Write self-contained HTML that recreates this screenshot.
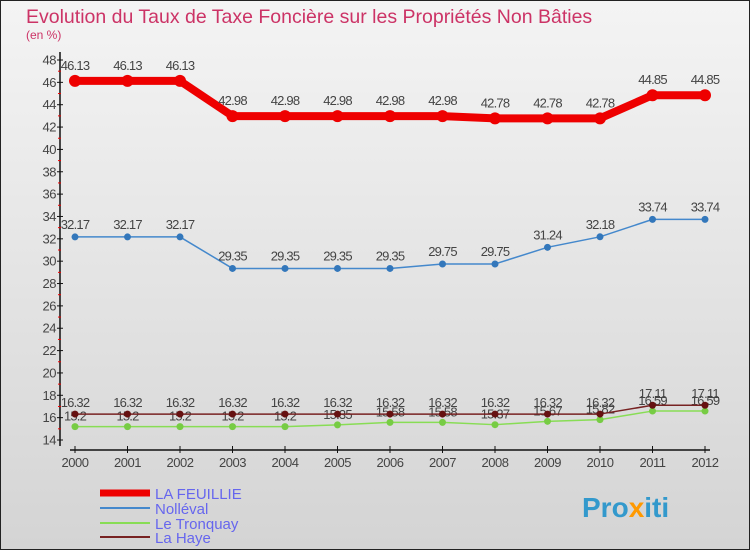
<!DOCTYPE html>
<html><head><meta charset="utf-8"><style>
body{margin:0}
svg{display:block;font-family:"Liberation Sans",sans-serif}
</style></head><body>
<svg width="750" height="550" viewBox="0 0 750 550" id="c">
<defs><linearGradient id="bg" x1="0" y1="0" x2="0" y2="1"><stop offset="0" stop-color="#f4f4f4"/><stop offset="1" stop-color="#d4d4d4"/></linearGradient></defs>
<rect x="0.5" y="0.5" width="749" height="549" fill="url(#bg)" stroke="#222"/>
<text x="26" y="23" font-size="19.5" fill="#cc3366">Evolution du Taux de Taxe Foncière sur les Propriétés Non Bâties</text>
<text x="26" y="39" font-size="12" fill="#cc3366">(en %)</text>
<g id="axes"></g><g id="series"></g>
<g>
<line x1="100" y1="493" x2="150" y2="493" stroke="#ee0000" stroke-width="7"/>
<text x="155" y="499" font-size="15" fill="#6666ee">LA FEUILLIE</text>
<line x1="100" y1="508" x2="150" y2="508" stroke="#4488cc" stroke-width="2"/>
<text x="155" y="514" font-size="15" fill="#6666ee">Nolléval</text>
<line x1="100" y1="523" x2="150" y2="523" stroke="#88dd55" stroke-width="2"/>
<text x="155" y="529" font-size="15" fill="#6666ee">Le Tronquay</text>
<line x1="100" y1="537" x2="150" y2="537" stroke="#772222" stroke-width="2"/>
<text x="155" y="543" font-size="15" fill="#6666ee">La Haye</text>
</g>
<text x="582" y="517" font-size="28" font-weight="bold" fill="#3399cc">Pro<tspan fill="#ff9900">x</tspan>iti</text>
</svg>
<script>
const years=[2000,2001,2002,2003,2004,2005,2006,2007,2008,2009,2010,2011,2012];
const feuillie=[46.13,46.13,46.13,42.98,42.98,42.98,42.98,42.98,42.78,42.78,42.78,44.85,44.85];
const nolleval=[32.17,32.17,32.17,29.35,29.35,29.35,29.35,29.75,29.75,31.24,32.18,33.74,33.74];
const tronquay=[15.2,15.2,15.2,15.2,15.2,15.35,15.58,15.58,15.37,15.67,15.82,16.59,16.59];
const haye=[16.32,16.32,16.32,16.32,16.32,16.32,16.32,16.32,16.32,16.32,16.32,17.11,17.11];
const yTicks=[14,16,18,20,22,24,26,28,30,32,34,36,38,40,42,44,46,48];
const NS="http://www.w3.org/2000/svg";
const X=i=>75+i*52.5, Y=v=>60+(48-v)*380/34;
function mk(t,a,p,txt){const e=document.createElementNS(NS,t);for(const k in a)e.setAttribute(k,a[k]);if(txt!==undefined)e.textContent=txt;p.appendChild(e);return e;}
const ax=document.getElementById('axes'),sr=document.getElementById('series');
let l=mk('line',{x1:60,y1:52,x2:60,y2:446,stroke:'#111','stroke-width':1.5},ax);


l=mk('line',{x1:70,y1:450,x2:710,y2:450,stroke:'#111','stroke-width':1.5},ax);


yTicks.forEach(v=>{mk('line',{x1:57,y1:Y(v),x2:63,y2:Y(v),stroke:'#111'},ax);
 if(v<48)mk('line',{x1:58,y1:Y(v+1),x2:61,y2:Y(v+1),stroke:'#e00'},ax);
 const t=mk('text',{x:56,y:Y(v)+4.5,'font-size':13,'text-anchor':'end',fill:'#444','letter-spacing':'-0.5'},ax,v);
 
 });
years.forEach((yr,i)=>{mk('line',{x1:X(i),y1:446,x2:X(i),y2:453,stroke:'#111'},ax);
 const t=mk('text',{x:X(i),y:467,'font-size':13,'text-anchor':'middle',fill:'#444','letter-spacing':'-0.5'},ax,yr);
 
 });
function series(vals,color,w,r,dot,name,dy){
 const g=mk('g',{},sr);
 
 
 mk('polyline',{points:vals.map((v,i)=>X(i)+','+Y(v)).join(' '),fill:'none',stroke:color,'stroke-width':w,'stroke-linejoin':'round'},g);
 vals.forEach((v,i)=>{const c=mk('circle',{cx:X(i),cy:Y(v),r:r,fill:dot},g);
  
  
  mk('text',{x:X(i),y:Y(v)+dy,'font-size':13,'text-anchor':'middle',fill:'#444','letter-spacing':'-0.8'},g,String(v));});
}
series(tronquay,'#88dd55',1.5,3.5,'#77cc44','series-le-tronquay',-6);
series(haye,'#772222',1.5,3.5,'#661111','series-la-haye',-7);
series(nolleval,'#4488cc',1.5,3.5,'#3377bb','series-nolleval',-8);
series(feuillie,'#ee0000',8,6,'#ee0000','series-la-feuillie',-11);
</script>
</body></html>
